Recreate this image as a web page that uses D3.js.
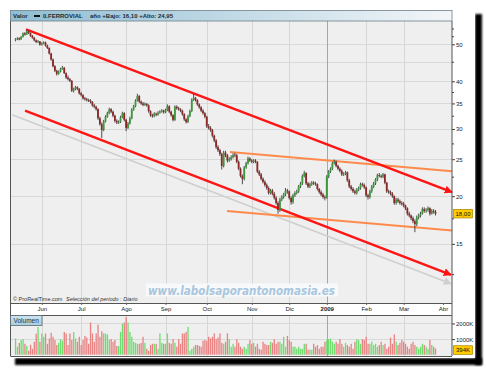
<!DOCTYPE html>
<html><head><meta charset="utf-8">
<script src="https://cdn.jsdelivr.net/npm/d3@7"></script>
<style>body{margin:0;background:#fff}svg{display:block}text{font-family:"Liberation Sans",Arial,sans-serif}</style>
</head><body><svg id="c" width="486" height="370"></svg>
<script>
// ---------- DATA ----------
const monthLabels=["Jun","Jul","Ago","Sep","Oct","Nov","Dic","2009","Feb","Mar","Abr"];
const monthIdx=[14,35,59,80,102,126,146,166,187,207,228];
const priceTicks=[50,40,35,30,25,20,15];
const priceMinor=[55,52.5,45,37.5,32.5,27.5,22.5,17.5,12.5];
const priceGrid=[50,45,40,35,30,25,20,15];
const volTicks=[1000,2000];
const open=[51.2,51.6,51.9,51.5,52.3,53.4,53.1,54.0,53.5,52.6,
52.0,51.2,50.6,50.9,49.9,50.3,50.6,49.6,48.9,47.3,
45.6,43.8,42.6,41.8,42.4,43.1,43.4,42.0,40.9,40.5,
40.1,37.8,38.2,38.6,38.2,37.2,36.8,36.1,35.9,35.7,
35.6,35.3,34.6,34.3,33.8,32.0,30.9,29.8,31.4,32.3,
33.0,33.8,33.3,32.5,31.5,31.2,31.3,32.2,33.0,31.7,
30.2,31.0,32.0,33.7,34.4,35.6,36.6,35.4,35.0,34.7,
34.9,34.6,33.4,32.6,32.4,32.9,32.7,33.1,33.3,33.5,
33.2,33.6,34.4,33.3,32.6,31.7,34.3,34.0,33.8,33.5,
32.8,31.8,31.3,32.4,33.4,35.8,36.2,35.7,34.8,34.2,
33.5,33.0,32.3,30.5,30.2,29.8,28.8,28.0,26.9,26.4,
25.8,24.0,26.0,25.6,24.8,25.0,25.3,25.7,25.6,24.6,
23.6,22.6,22.2,23.8,24.4,25.1,24.8,24.6,24.8,24.6,
23.2,22.8,22.2,21.8,21.4,21.0,20.4,20.7,20.3,19.8,
19.2,18.4,19.6,19.9,20.2,20.7,20.6,19.8,19.3,20.1,
20.4,20.6,21.2,21.6,22.6,23.0,21.6,21.2,21.5,21.7,
21.6,21.5,20.9,20.5,20.2,19.9,19.8,22.5,23.2,23.6,
24.4,24.6,24.0,23.6,23.3,22.8,22.9,23.1,22.0,21.2,
20.9,20.6,20.4,20.8,21.0,21.5,21.4,21.1,20.1,19.9,
20.6,21.2,21.6,22.1,22.7,22.6,22.5,22.8,21.7,20.6,
20.5,20.3,20.0,19.2,19.6,19.4,19.2,19.1,18.9,18.6,
18.0,17.8,17.5,17.2,16.9,17.6,17.8,18.0,18.5,18.3,
18.4,18.6,18.0,18.3,18.2];
const high=[51.9,52.2,52.1,52.6,53.7,53.8,54.6,54.3,53.7,52.9,
52.3,51.5,51.3,51.0,50.6,50.9,50.8,49.9,49.1,47.5,
45.9,44.1,42.9,42.7,43.4,43.9,43.6,42.2,41.4,40.8,
40.3,38.5,38.9,38.8,38.4,37.5,37.0,36.4,36.2,36.0,
35.9,35.5,34.9,34.5,34.0,32.3,31.2,31.7,32.6,33.3,
34.1,34.0,33.5,32.7,31.8,31.6,32.5,33.3,33.2,31.9,
31.3,32.3,34.0,34.7,35.9,37.1,36.8,35.6,35.3,35.2,
35.1,34.8,33.6,32.9,33.2,33.1,33.4,33.6,33.8,33.7,
33.9,34.8,34.6,33.5,32.8,34.6,34.6,34.3,34.0,33.7,
33.0,32.0,32.7,33.7,36.1,37.0,36.4,35.9,35.0,34.4,
33.8,33.2,32.5,30.9,30.5,30.0,29.0,28.2,27.2,26.6,
26.0,26.3,26.3,25.8,25.3,25.6,25.9,26.0,25.8,24.8,
23.8,22.8,24.0,24.6,25.4,25.3,25.0,25.0,25.0,24.7,
23.4,23.0,22.4,22.0,21.6,21.2,20.9,20.9,20.5,20.0,
19.4,19.8,20.1,20.4,21.0,20.9,20.7,20.0,20.3,20.6,
20.8,21.4,21.8,22.8,23.3,23.1,21.8,21.7,21.9,21.9,
21.8,21.6,21.0,20.7,20.4,20.1,22.7,23.4,23.8,24.6,
24.95,24.8,24.2,23.8,23.5,23.1,23.3,23.2,22.2,21.4,
21.1,20.8,21.0,21.2,21.7,21.7,21.6,21.2,20.3,20.8,
21.4,21.8,22.3,22.9,23.0,22.8,23.0,22.9,21.8,20.8,
20.7,20.5,20.1,19.8,19.8,19.6,19.4,19.3,19.0,18.7,
18.2,17.9,17.7,17.4,17.8,18.0,18.2,18.7,18.7,18.6,
18.8,18.7,18.5,18.5,18.4];
const low=[50.9,51.3,51.2,51.4,52.1,52.7,52.9,53.2,52.3,51.7,
50.9,50.4,50.4,49.6,49.6,50.0,49.3,48.6,47.0,45.3,
43.5,42.3,41.4,41.6,42.2,42.9,41.8,40.6,40.2,39.8,
37.5,37.4,37.9,37.9,36.9,36.5,35.8,35.6,35.4,35.3,
35.0,34.3,34.0,33.5,31.7,30.6,28.4,29.6,31.2,32.1,
32.8,33.0,32.2,31.2,30.9,30.9,31.1,32.0,31.4,29.6,
30.0,30.8,31.8,33.5,34.2,35.4,35.1,34.7,34.4,34.5,
34.3,33.1,32.3,32.1,32.2,32.4,32.5,32.9,33.1,32.9,
33.0,33.4,33.0,32.3,31.4,31.5,33.7,33.5,33.2,32.5,
31.5,31.0,31.1,32.2,33.2,35.5,35.4,34.5,33.9,33.2,
32.7,32.0,30.2,29.9,29.5,28.5,27.7,26.6,26.1,25.5,
23.5,23.8,25.3,24.5,24.6,24.8,25.1,25.3,24.4,23.4,
22.4,21.5,22.0,23.6,24.2,24.6,24.4,24.4,24.4,23.0,
22.6,22.0,21.6,21.2,20.8,20.2,20.2,20.1,19.6,19.0,
18.0,18.2,19.4,19.7,20.0,20.3,19.6,19.0,19.1,19.9,
20.2,20.4,21.0,21.4,22.4,21.4,21.0,21.0,21.3,21.4,
21.3,20.7,20.3,20.0,19.7,19.5,19.7,22.3,23.0,23.4,
24.2,23.8,23.4,23.1,22.6,22.6,22.7,21.8,21.0,20.7,
20.4,20.2,20.2,20.6,20.8,21.2,20.9,19.9,19.6,19.7,
20.4,21.0,21.4,21.9,22.4,22.3,22.3,21.5,20.4,20.3,
20.1,19.8,19.0,19.0,19.2,19.0,18.9,18.7,18.4,17.8,
17.6,17.3,17.0,16.1,16.7,17.4,17.6,17.9,18.1,18.1,
18.2,17.8,17.9,18.0,17.8];
const close=[51.6,51.8,51.5,52.3,53.4,53.0,54.0,53.5,52.6,52.0,
51.2,50.7,50.9,49.9,50.3,50.6,49.6,48.9,47.3,45.6,
43.8,42.6,41.8,42.4,43.1,43.4,42.0,40.9,40.5,40.1,
37.8,38.2,38.6,38.2,37.2,36.8,36.1,35.9,35.7,35.6,
35.3,34.6,34.3,33.8,32.0,30.9,29.8,31.4,32.3,33.0,
33.8,33.3,32.5,31.5,31.2,31.3,32.2,33.0,31.7,30.2,
31.0,32.0,33.7,34.4,35.6,36.6,35.4,35.0,34.7,34.9,
34.6,33.4,32.6,32.4,32.9,32.7,33.1,33.3,33.5,33.2,
33.6,34.4,33.3,32.6,31.7,34.3,34.0,33.8,33.5,32.8,
31.8,31.3,32.4,33.4,35.8,36.2,35.7,34.8,34.2,33.5,
33.0,32.3,30.5,30.2,29.8,28.8,28.0,26.9,26.4,25.8,
24.0,26.0,25.6,24.8,25.0,25.3,25.6,25.6,24.6,23.6,
22.6,22.2,23.8,24.4,25.1,24.8,24.6,24.8,24.6,23.2,
22.8,22.2,21.8,21.4,21.0,20.4,20.7,20.3,19.8,19.2,
18.4,19.6,19.9,20.2,20.7,20.6,19.8,19.3,20.1,20.4,
20.6,21.2,21.6,22.6,23.0,21.6,21.2,21.5,21.7,21.6,
21.5,20.9,20.5,20.2,19.9,19.8,22.5,23.2,23.6,24.4,
24.6,24.0,23.6,23.3,22.8,22.9,23.1,22.0,21.2,20.9,
20.6,20.4,20.8,21.0,21.5,21.4,21.1,20.1,19.9,20.6,
21.2,21.6,22.1,22.7,22.6,22.5,22.8,21.7,20.6,20.5,
20.3,20.0,19.2,19.6,19.4,19.2,19.1,18.9,18.6,18.0,
17.8,17.5,17.2,16.9,17.6,17.8,18.0,18.5,18.3,18.4,
18.6,18.0,18.3,18.2,18.0];
const volume=[1040,510,760,940,1000,700,560,
250,640,380,830,1350,1780,830,1360,1150,1360,700,1040,1400,1150,940,620,760,1000,900,1460,1360,
620,1360,940,1460,1040,830,1150,620,940,1200,1100,700,2060,1360,830,1360,1930,
1150,1510,1360,1360,1300,940,1000,830,940,560,560,1460,1980,2060,2420,2060,1460,1150,830,760,700,
700,760,1150,760,380,250,620,700,700,700,380,
1360,760,700,700,1360,760,700,1000,760,510,1000,700,1360,1360,1460,1780,250,
380,510,620,620,560,510,900,940,900,1150,1040,1150,1360,1000,1100,1360,760,700,830,1360,1000,510,700,510,1000,760,510,
380,510,380,700,
940,700,760,510,700,380,320,830,
700,620,620,830,760,1000,700,830,
830,700,1150,510,1200,940,830,510,
510,380,510,380,380,700,700,320,
320,320,700,510,620,380,510,510,
830,940,1000,1040,830,700,830,700,
1000,700,510,760,620,510,700,380,
830,1000,940,700,1000,940,1150,700,
700,830,620,700,510,620,830,620,
700,380,510,1100,700,1300,830,620,
760,940,830,700,510,380,700,830,
620,510,380,510,700,620,510,380,
940,620,510,394];
const redLines=[[[5.6,54.7],[232.8,20.5]],[[5.1,33.5],[232.3,12.45]]];
const grayLines=[[[-1.84,32.7],[232.3,11.8]]];
const orangeLines=[[[114.4,26.1],[232.8,23.25]],[[112.8,18.3],[232.8,16.27]]];
const headerTexts=["Valor","0.FERROVIAL","año +Bajo: 16,10 +Alto: 24,95"];
const lastPrice=18.0, lastPriceLabel="18,00";
const lastVol=394, lastVolLabel="394K";

// ---------- LAYOUT ----------
const L=10.5,R=452,pTop=21,pBot=303,vTop=315,vBot=356;
const svg=d3.select("#c");
const defs=svg.append("defs");
const hg=defs.append("linearGradient").attr("id","hg");
hg.append("stop").attr("offset","0").attr("stop-color","#8fbdd2");
hg.append("stop").attr("offset","1").attr("stop-color","#f3f6f9");
const vg=defs.append("linearGradient").attr("id","vg").attr("x1",0).attr("x2",0).attr("y1",0).attr("y2",1);
vg.append("stop").attr("offset","0").attr("stop-color","#cfe5f0");
vg.append("stop").attr("offset","1").attr("stop-color","#a6cde0");
defs.append("filter").attr("id","bl").attr("x","-50%").attr("y","-50%").attr("width","200%").attr("height","200%")
  .append("feGaussianBlur").attr("stdDeviation",1.1);
function marker(id,col){
  defs.append("marker").attr("id",id).attr("viewBox","0 0 10 10").attr("refX",9).attr("refY",5)
   .attr("markerWidth",8).attr("markerHeight",8).attr("markerUnits","userSpaceOnUse").attr("orient","auto")
   .append("path").attr("d","M0,0L10,5L0,10z").attr("fill",col);
}
marker("ar","#ff1414");marker("ag","#cfcfcf");
defs.append("clipPath").attr("id","pc").append("rect").attr("x",L).attr("y",pTop).attr("width",R-L).attr("height",pBot-pTop);
defs.append("clipPath").attr("id","vc").append("rect").attr("x",L).attr("y",vTop).attr("width",R-L).attr("height",vBot-vTop);

// shadow
svg.append("rect").attr("x",475).attr("y",14).attr("width",7).attr("height",351).attr("fill","#000").attr("filter","url(#bl)");
svg.append("rect").attr("x",15).attr("y",358).attr("width",467).attr("height",7).attr("fill","#000").attr("filter","url(#bl)");
svg.append("rect").attr("x",10).attr("y",10).attr("width",465).attr("height",348).attr("fill","#fff");

const x=d3.scaleLinear().domain([-2.4,232.8]).range([11,452]);
const y=d3.scaleLog().domain([57.2,10.5]).range([22,303]);
const yv=d3.scaleLinear().domain([0,2550]).range([354.7,314.9]);

// panels
svg.append("rect").attr("x",L).attr("y",pTop).attr("width",R-L).attr("height",pBot-pTop).attr("fill","#efefef");
svg.append("rect").attr("x",L).attr("y",vTop).attr("width",R-L).attr("height",vBot-vTop).attr("fill","#efefef");

// grids
const grid=svg.append("g").attr("fill","none");
grid.selectAll(".hp").data(priceGrid).join("line").attr("x1",L).attr("x2",R).attr("y1",d=>Math.round(y(d))+0.5).attr("y2",d=>Math.round(y(d))+0.5).attr("stroke","#d9d9d9");
grid.selectAll(".hv").data(volTicks).join("line").attr("x1",L).attr("x2",R).attr("y1",d=>Math.round(yv(d))+0.5).attr("y2",d=>Math.round(yv(d))+0.5).attr("stroke","#d9d9d9");
const vIdx=monthIdx.slice(0,10);
[[pTop,pBot],[vTop,vBot]].forEach(([a,b])=>{
  grid.selectAll(null).data(vIdx).join("line").attr("x1",d=>Math.round(x(d))+0.5).attr("x2",d=>Math.round(x(d))+0.5)
   .attr("y1",a).attr("y2",b).attr("stroke",(d,i)=>monthLabels[i]==="2009"?"#a6a6a6":"#d6d6d6");
});

// watermark
svg.append("rect").attr("x",146).attr("y",283.5).attr("width",192).attr("height",13).attr("fill","#f7f9fb");
svg.append("text").attr("x",148).attr("y",294.5).attr("textLength",187).attr("lengthAdjust","spacingAndGlyphs")
 .style("font-family","'DejaVu Sans',sans-serif").style("font-size","12px").style("font-weight","bold").style("font-style","italic")
 .attr("fill","#a9c6de").text("www.labolsaporantonomasia.es");

// trend lines
const lg=svg.append("g").attr("clip-path",null);
function drawLines(arr,col,w,mk){
  lg.selectAll(null).data(arr).join("line")
   .attr("x1",d=>x(d[0][0])).attr("y1",d=>y(d[0][1])).attr("x2",d=>x(d[1][0])).attr("y2",d=>y(d[1][1]))
   .attr("stroke",col).attr("stroke-width",w).attr("marker-end",mk?`url(#${mk})`:null);
}
drawLines(grayLines,"#cfcfcf",1.6,"ag");

// candles
const idx=d3.range(close.length);
const cg=svg.append("g").attr("clip-path","url(#pc)");
cg.selectAll(".w").data(idx).join("line").attr("x1",i=>x(i)).attr("x2",i=>x(i)).attr("y1",i=>y(high[i])).attr("y2",i=>y(low[i]))
 .attr("stroke","#3a3a3a").attr("stroke-width",0.9);
cg.selectAll(".b").data(idx).join("rect").attr("x",i=>x(i)-0.9).attr("width",1.8)
 .attr("y",i=>y(Math.max(open[i],close[i]))).attr("height",i=>Math.max(0.8,Math.abs(y(open[i])-y(close[i]))))
 .attr("fill",i=>close[i]>=open[i]?"#3c9a3c":"#8e2626");

drawLines(orangeLines,"#ff8a4c",2,null);
drawLines(redLines,"#ff1414",2.4,"ar");

// volume
svg.append("g").attr("clip-path","url(#vc)").selectAll("rect").data(idx).join("rect")
 .attr("x",i=>x(i)-0.6).attr("width",1.3).attr("y",i=>yv(volume[i])).attr("height",i=>yv(0)-yv(volume[i]))
 .attr("fill",i=>close[i]>=open[i]?"#6fdc6f":"#e88282");

// borders
const bd=svg.append("g").attr("stroke","#555").attr("stroke-width",1);
bd.append("line").attr("x1",L).attr("x2",L).attr("y1",pTop).attr("y2",vBot);
bd.append("line").attr("x1",R).attr("x2",R).attr("y1",pTop).attr("y2",vBot);
bd.append("line").attr("x1",L).attr("x2",R).attr("y1",pBot+0.5).attr("y2",pBot+0.5);
bd.append("line").attr("x1",L).attr("x2",R).attr("y1",vTop+0.5).attr("y2",vTop+0.5);
bd.append("line").attr("x1",L).attr("x2",R).attr("y1",vBot+0.5).attr("y2",vBot+0.5);

// header
svg.append("rect").attr("x",10.5).attr("y",10.5).attr("width",R-10.5).attr("height",10.5).attr("fill","url(#hg)").attr("stroke","#6f7f88").attr("stroke-width",0.8);
const ht=svg.append("g").style("font-size","6px").style("font-weight","bold").attr("fill","#1c2a33");
ht.append("text").attr("x",13).attr("y",18.3).text(headerTexts[0]);
svg.append("rect").attr("x",34).attr("y",15).attr("width",6).attr("height",2).attr("fill","#111");
ht.append("text").attr("x",43).attr("y",18.3).text(headerTexts[1]);
ht.append("text").attr("x",90).attr("y",18.3).text(headerTexts[2]);

// copyright
const ct=svg.append("text").attr("x",13).attr("y",300.5).style("font-size","5.5px").attr("fill","#333");
ct.append("tspan").text("© ProRealTime.com");
ct.append("tspan").attr("x",66).style("font-style","italic").text("Selección del periodo : Diario");

// x axis
const xa=svg.append("g").attr("transform",`translate(0,${pBot})`)
 .call(d3.axisBottom(x).tickValues(monthIdx).tickFormat((d,i)=>monthLabels[i]).tickSize(2).tickPadding(2));
xa.select(".domain").remove();
xa.selectAll("line").attr("stroke","#666");
xa.selectAll("text").style("font-size","6px").attr("fill","#222").style("font-weight",(d,i)=>monthLabels[i]==="2009"?"bold":"normal");

// price axis
const pa=svg.append("g").attr("transform",`translate(${R},0)`)
 .call(d3.axisRight(y).tickValues(priceTicks).tickFormat(d3.format("d")).tickSize(3).tickPadding(1));
pa.select(".domain").remove();
pa.selectAll("line").attr("stroke","#444");
pa.selectAll("text").style("font-size","6px").attr("fill","#222");
const pm=svg.append("g").attr("transform",`translate(${R},0)`)
 .call(d3.axisRight(y).tickValues(priceMinor).tickFormat("").tickSize(2));
pm.select(".domain").remove();pm.selectAll("line").attr("stroke","#444");

// volume axis
const va=svg.append("g").attr("transform",`translate(${R},0)`)
 .call(d3.axisRight(yv).tickValues(volTicks).tickFormat(d=>d+"K").tickSize(3).tickPadding(1));
va.select(".domain").remove();
va.selectAll("line").attr("stroke","#444");
va.selectAll("text").style("font-size","6px").attr("fill","#222");

// value tags
function tag(cy,label){
  svg.append("rect").attr("x",453.5).attr("y",cy-4.3).attr("width",19).attr("height",8.6).attr("fill","#ffcc00").attr("stroke","#a88400").attr("stroke-width",0.7);
  svg.append("text").attr("x",463).attr("y",cy+2.1).attr("text-anchor","middle").style("font-size","6px").attr("fill","#111").text(label);
}
tag(y(lastPrice),lastPriceLabel);
tag(yv(lastVol)+1.5,lastVolLabel);

// Volumen label
svg.append("rect").attr("x",10.5).attr("y",315.5).attr("width",31.5).attr("height",10).attr("fill","url(#vg)").attr("stroke","#5a6a72").attr("stroke-width",0.8);
svg.append("text").attr("x",13.5).attr("y",323).style("font-size","6.5px").attr("fill","#1a3440").text("Volumen");
</script></body></html>
